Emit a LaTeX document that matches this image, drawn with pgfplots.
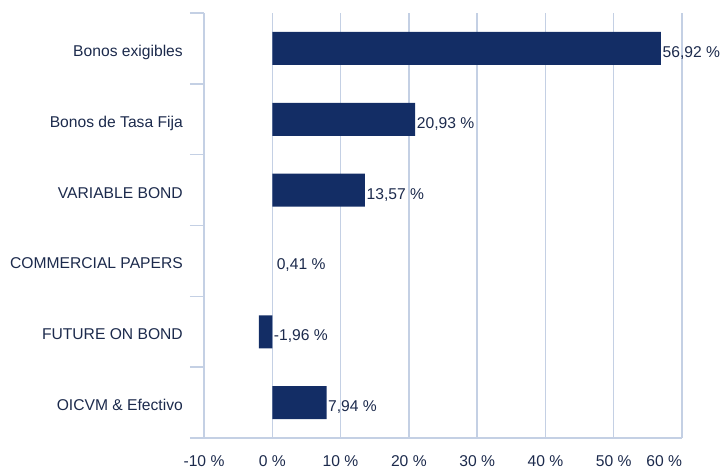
\documentclass[border=0pt]{standalone}
\usepackage{fontspec}
\setmainfont{Liberation Sans}
\usepackage{pgfplots}
\pgfplotsset{compat=1.18}
\definecolor{barc}{HTML}{132D65}
\definecolor{gridc}{HTML}{C4D0E4}
\definecolor{txtc}{HTML}{1C2A4C}
\begin{document}
\begin{tikzpicture}[font=\fontsize{15.7}{19}\selectfont, text=txtc]
\path[use as bounding box] (-204bp,-30bp) rectangle (516bp,438bp);
\begin{axis}[
  at={(0,0)}, anchor=south west,
  scale only axis, width=478bp, height=425bp,
  xmin=-10, xmax=60, ymin=-0.5, ymax=5.5, y dir=reverse,
  xtick={-10,0,10,20,30,40,50,60},
  xticklabels={-10 \%, 0 \%, 10 \%, 20 \%, 30 \%, 40 \%, 50 \%, \llap{60 \%}},
  ytick={0,1,2,3,4,5},
  yticklabels={Bonos exigibles, Bonos de Tasa Fija, VARIABLE BOND, COMMERCIAL PAPERS, FUTURE ON BOND, OICVM \& Efectivo},
  tick style={draw=none},
  xticklabel style={anchor=base, inner sep=0pt, yshift=-28bp, text=txtc},
  yticklabel style={anchor=base east, inner sep=0pt, xshift=-21bp, yshift=-8bp, text=txtc},
  xmajorgrids, grid style={gridc, line width=1.4bp},
  axis x line*=bottom, axis y line*=left,
  axis line style={gridc, line width=1.4bp, -},
  clip=false,
]
\addplot[xbar, fill=barc, draw=none, bar width=33bp] coordinates {(56.92,0) (20.93,1) (13.57,2) (-1.96,4) (7.94,5)};
\addplot[draw=none, mark=none, nodes near coords, point meta=explicit symbolic,
  nodes near coords style={anchor=base west, inner sep=0pt, xshift=1.5bp, yshift=-9bp, text=txtc}]
  coordinates {(56.92,0) [56,92 \%] (20.93,1) [20,93 \%] (13.57,2) [13,57 \%] (0.41,3) [0,41 \%] (0,4) [-1,96 \%] (7.94,5) [7,94 \%]};
\pgfplotsinvokeforeach{-0.5,0.5,1.5,2.5,3.5,4.5,5.5}{\draw[gridc, line width=1.4bp] ([xshift=-14bp]axis cs:-10,#1) -- (axis cs:-10,#1);}
\end{axis}
\end{tikzpicture}
\end{document}
